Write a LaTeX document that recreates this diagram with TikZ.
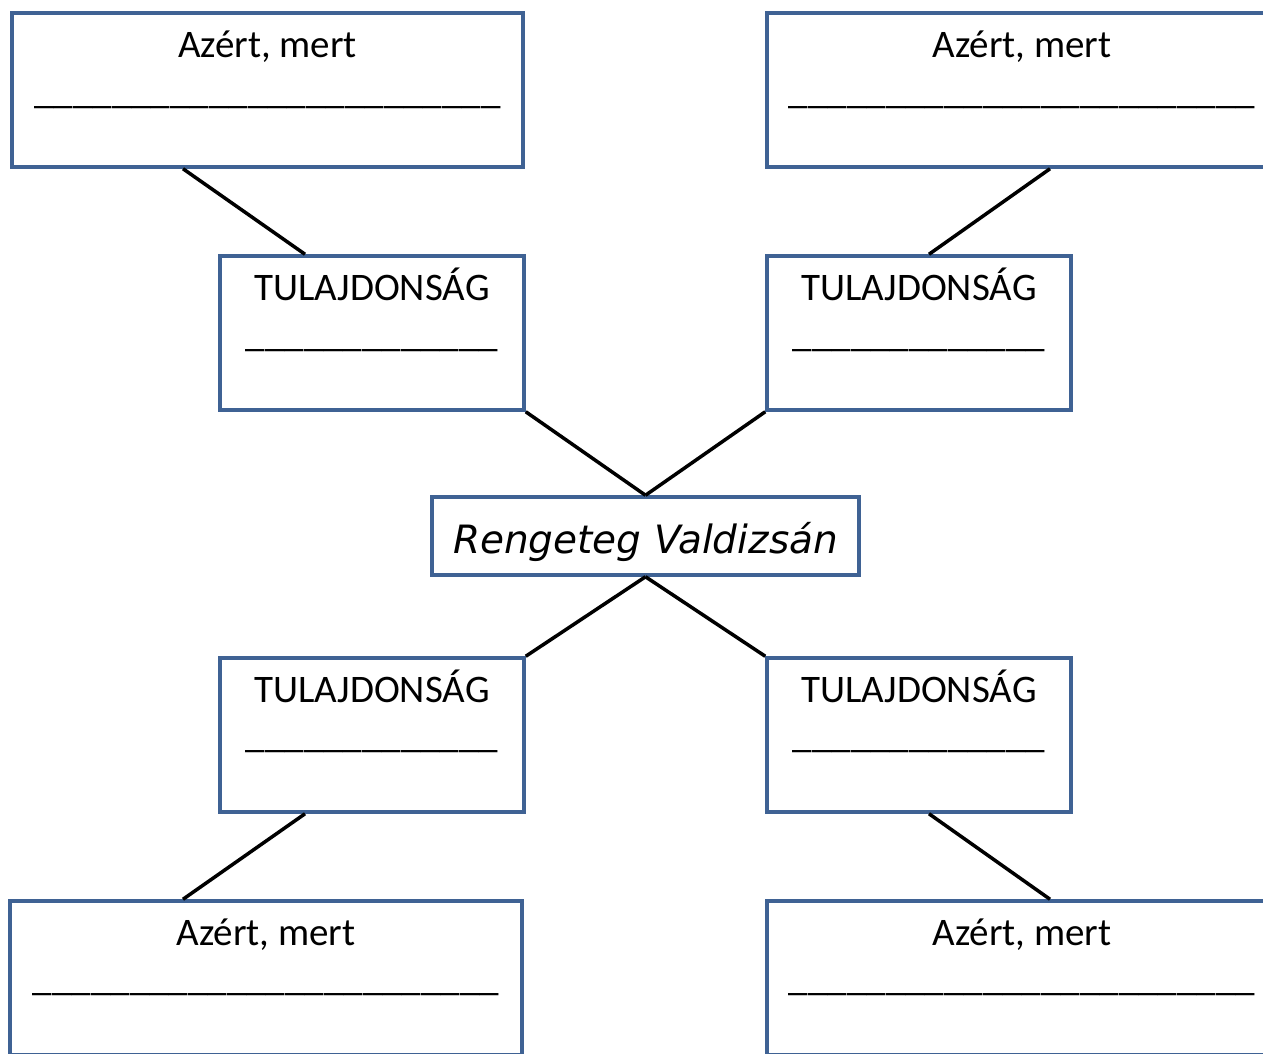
\documentclass[tikz,border=0pt]{standalone}
\usepackage{fontspec}
\setmainfont{Carlito}
\newfontfamily\handfont{DejaVu Sans}
\usetikzlibrary{positioning}
\definecolor{boxblue}{RGB}{63,98,148}
\tikzset{
  box/.style={draw=boxblue, line width=3.5pt, fill=white, inner sep=0pt, rectangle},
  conn/.style={draw=black, line width=3.5pt},
  lbl/.style={inner sep=0pt, anchor=base, font=\fontsize{39}{46}\selectfont},
}
\begin{document}
\begin{tikzpicture}[x=1pt,y=-1pt]
\useasboundingbox (0,0) rectangle (1263,1053);
\clip (0,0) rectangle (1263,1053);
\fill[white] (0,0) rectangle (1263,1053);
% outer boxes
\node[box, minimum width=511pt, minimum height=154pt] (a1) at (267.5,90) {};
\node[box, minimum width=510pt, minimum height=154pt] (a2) at (1022,90) {};
\node[box, minimum width=512pt, minimum height=154pt] (a3) at (266,978) {};
\node[box, minimum width=510pt, minimum height=154pt] (a4) at (1022,978) {};
% property boxes
\node[box, minimum width=304pt, minimum height=154pt] (t1) at (372,333) {};
\node[box, minimum width=304pt, minimum height=154pt] (t2) at (919,333) {};
\node[box, minimum width=304pt, minimum height=154pt] (t3) at (372,735) {};
\node[box, minimum width=304pt, minimum height=154pt] (t4) at (919,735) {};
% centre
\node[box, minimum width=427pt, minimum height=78pt] (c) at (645.5,536) {};
% texts
\node[lbl] (a1t) at (267.5,57) {Azért, mert};
\node[lbl] (a1u) at (267.5,103) {\_\_\_\_\_\_\_\_\_\_\_\_\_\_\_\_\_\_\_\_\_\_\_\_};
\node[lbl] (a2t) at (1022,57) {Azért, mert};
\node[lbl] (a2u) at (1022,103) {\_\_\_\_\_\_\_\_\_\_\_\_\_\_\_\_\_\_\_\_\_\_\_\_};
\node[lbl] (a3t) at (266,945) {Azért, mert};
\node[lbl] (a3u) at (266,990) {\_\_\_\_\_\_\_\_\_\_\_\_\_\_\_\_\_\_\_\_\_\_\_\_};
\node[lbl] (a4t) at (1022,945) {Azért, mert};
\node[lbl] (a4u) at (1022,990) {\_\_\_\_\_\_\_\_\_\_\_\_\_\_\_\_\_\_\_\_\_\_\_\_};
\node[lbl] (t1t) at (372,300) {TULAJDONSÁG};
\node[lbl] (t1u) at (372,346) {\_\_\_\_\_\_\_\_\_\_\_\_\_};
\node[lbl] (t2t) at (919,300) {TULAJDONSÁG};
\node[lbl] (t2u) at (919,346) {\_\_\_\_\_\_\_\_\_\_\_\_\_};
\node[lbl] (t3t) at (372,702) {TULAJDONSÁG};
\node[lbl] (t3u) at (372,747) {\_\_\_\_\_\_\_\_\_\_\_\_\_};
\node[lbl] (t4t) at (919,702) {TULAJDONSÁG};
\node[lbl] (t4u) at (919,747) {\_\_\_\_\_\_\_\_\_\_\_\_\_};
\node[inner sep=0pt, anchor=base, font=\handfont\fontsize{39}{46}\selectfont\itshape] (ct) at (645.5,553) {Rengeteg Valdizsán};
% connectors
\draw[conn] ([xshift=-84.5pt]a1.south) -- ([xshift=-67pt]t1.north);
\draw[conn] ([xshift=28pt]a2.south) -- ([xshift=10pt]t2.north);
\draw[conn] (t1.south east) -- (c.north);
\draw[conn] (t2.south west) -- (c.north);
\draw[conn] (c.south) -- (t3.north east);
\draw[conn] (c.south) -- (t4.north west);
\draw[conn] ([xshift=-67pt]t3.south) -- ([xshift=-83pt]a3.north);
\draw[conn] ([xshift=10pt]t4.south) -- ([xshift=28pt]a4.north);
\end{tikzpicture}
\end{document}
